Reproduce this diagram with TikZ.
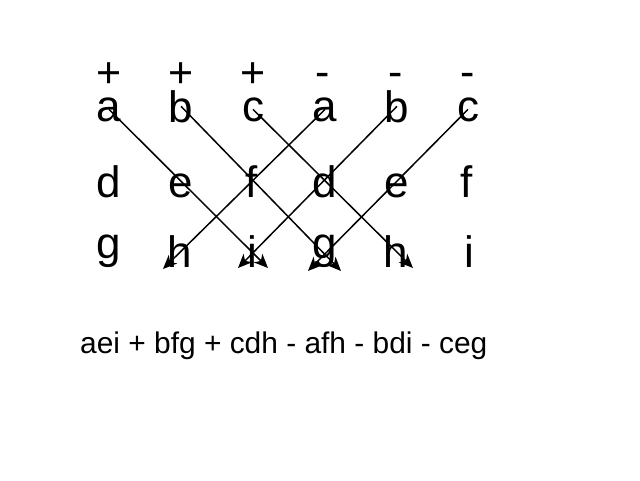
\documentclass[tikz,border=0pt]{standalone}
\usepackage{fontspec}
\setmainfont{Liberation Sans}
\usetikzlibrary{arrows.meta, positioning}

\begin{document}
\begin{tikzpicture}[
        x=1pt, y=-1pt,
        letter/.style={anchor=base, inner sep=0pt, font=\fontsize{44}{44}\selectfont},
        sign/.style={anchor=base, inner sep=0pt, font=\fontsize{43}{43}\selectfont},
        arrow/.style={-{Stealth[length=14pt, width=12pt, inset=4pt]}, line width=1.5pt, black}
    ]
        \useasboundingbox (0,0) rectangle (640,480);

        % Signs
        \node[sign] (p1) at (109,87) {+};
        \node[sign] (p2) at (181,87) {+};
        \node[sign] (p3) at (253,87) {+};
        \node[sign] (m1) at (323,86) {-};
        \node[sign] (m2) at (396,86) {-};
        \node[sign] (m3) at (468,86) {-};

        % Top row
        \node[letter] (a1) at (109,121) {a};
        \node[letter] (b1) at (181,122) {b};
        \node[letter] (c1) at (253,121) {c};
        \node[letter] (a2) at (325,121) {a};
        \node[letter] (b2) at (397,122) {b};
        \node[letter] (c2) at (468,121) {c};

        % Middle row
        \node[letter] (d1) at (109,197) {d};
        \node[letter] (e1) at (181,197) {e};
        \node[letter] (f1) at (252,197) {f};
        \node[letter] (d2) at (325,197) {d};
        \node[letter] (e2) at (397,197) {e};
        \node[letter] (f2) at (467,197) {f};

        % Bottom row
        \node[letter] (g1) at (109,258) {g};
        \node[letter] (h1) at (180,267) {h};
        \node[letter] (i1) at (252,267) {i};
        \node[letter] (g2) at (325,258) {g};
        \node[letter] (h2) at (396,267) {h};
        \node[letter] (i2) at (469,267) {i};

        % Arrow ends
        \coordinate (endAEI) at (268,268);
        \coordinate (endBFG) at (341,271);
        \coordinate (endCDH) at (413,268);
        \coordinate (endAFH) at (163,269);
        \coordinate (endBDI) at (238,268);
        \coordinate (endCEG) at (308,271);

        % Result
        \node[anchor=base west, inner sep=0pt, font=\fontsize{29.9}{29.9}\selectfont] (result) at (80,353) {aei + bfg + cdh - afh - bdi - ceg};

        % Arrows
        \draw[arrow] (a1.center) -- (endAEI);
        \draw[arrow] (b1.center) -- (endBFG);
        \draw[arrow] (c1.center) -- (endCDH);
        \draw[arrow] (a2.center) -- (endAFH);
        \draw[arrow] (b2.center) -- (endBDI);
        \draw[arrow] (c2.center) -- (endCEG);
    \end{tikzpicture}
\end{document}
